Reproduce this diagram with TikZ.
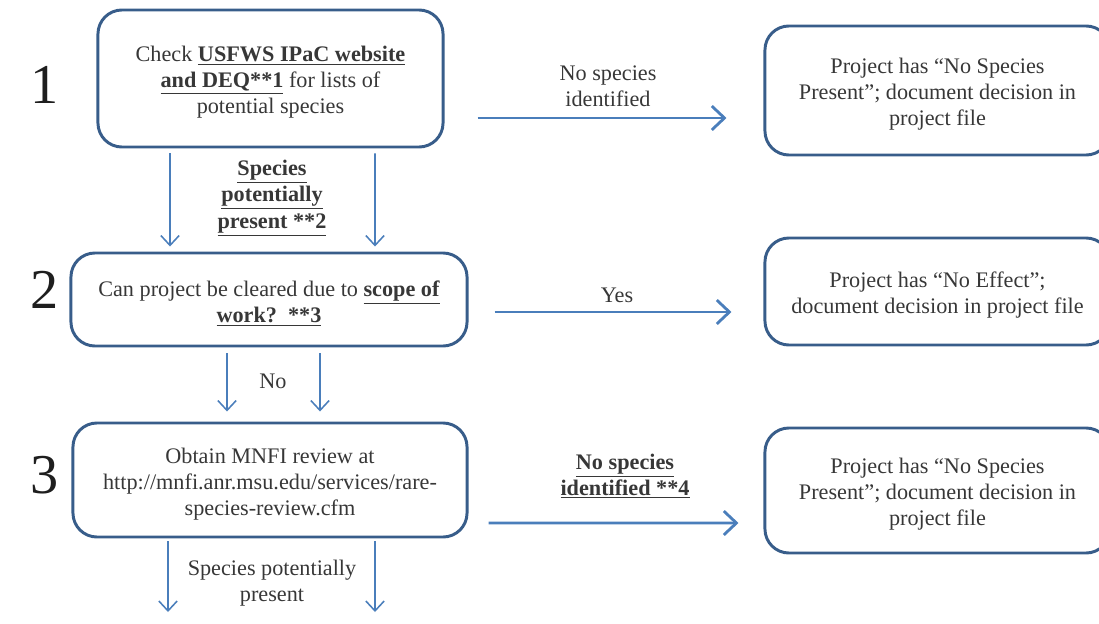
\documentclass[tikz,border=0pt]{standalone}
\usepackage{fontspec}
\setmainfont{Liberation Serif}
\usetikzlibrary{arrows.meta, calc}
\definecolor{boxline}{RGB}{56, 93, 138}
\definecolor{flowblue}{RGB}{74, 126, 187}
\definecolor{inkgray}{RGB}{55, 55, 55}
\definecolor{stepink}{RGB}{30, 30, 30}
\newcommand{\boxstrut}{\rule{0pt}{16.5pt}}

\begin{document}
\begin{tikzpicture}[x=0.025cm, y=-0.025cm,
  stepbox/.style={draw=boxline, line width=2.1pt, rounded corners=0.6cm, align=center, text=inkgray, inner sep=0pt, font=\fontsize{15.8}{18.6}\selectfont},
  flowlabel/.style={align=center, text=inkgray, inner sep=0pt, font=\fontsize{15.8}{18.6}\selectfont},
  stepnum/.style={text=stepink, inner sep=0pt, font=\fontsize{40}{40}\selectfont},
  hflow/.style={draw=flowblue, line width=2pt, -{Straight Barb[length=9pt, width=17pt, line width=2pt]}},
  vflow/.style={draw=flowblue, line width=1.1pt, -{Straight Barb[length=7pt, width=13pt, line width=1.1pt]}}]
  \useasboundingbox (0,0) rectangle (1099,624);
  \clip (0,0) rectangle (1099,624);
  % Step numbers
  \node[stepnum] (n1) at (45,85) {1};
  \node[stepnum] (n2) at (45,290) {2};
  \node[stepnum] (n3) at (45,475) {3};
  % Main column
  \node[stepbox, minimum width=8.625cm, minimum height=3.425cm] (b1) at (270.5,78.5)
    {\boxstrut Check \underline{\textbf{USFWS IPaC website}}\\ \underline{\textbf{and DEQ**1}} for lists of\\ potential species};
  \node[stepbox, minimum width=9.9cm, minimum height=2.325cm] (b2) at (269,299.5)
    {\boxstrut Can project be cleared due to \underline{\textbf{scope of}}\\ \underline{\textbf{work?~~**3}}};
  \node[stepbox, minimum width=9.85cm, minimum height=2.85cm] (b3) at (270,480)
    {\boxstrut Obtain MNFI review at\\ http://mnfi.anr.msu.edu/services/rare-\\ species-review.cfm};
  % Outcomes
  \node[stepbox, minimum width=8.625cm, minimum height=3.225cm] (r1) at (937.5,90.5)
    {\boxstrut Project has “No Species\\ Present”; document decision in\\ project file};
  \node[stepbox, minimum width=8.625cm, minimum height=2.675cm] (r2) at (937.5,291.5)
    {\boxstrut Project has “No Effect”;\\ document decision in project file};
  \node[stepbox, minimum width=8.625cm, minimum height=3.125cm] (r3) at (937.5,490.5)
    {\boxstrut Project has “No Species\\ Present”; document decision in\\ project file};
  % Arrow labels
  \node[flowlabel] (l1) at (608,86) {No species\\ identified};
  \node[flowlabel] (l2) at (617,295) {Yes};
  \node[flowlabel] (l3) at (625,476) {\underline{\textbf{No species}}\\ \underline{\textbf{identified **4}}};
  \node[flowlabel] (v1) at (272,198) {\underline{\textbf{Species}}\\ \underline{\textbf{potentially}}\\ \underline{\textbf{present **2}}};
  \node[flowlabel] (v2) at (273,381) {No};
  \node[flowlabel] (v3) at (272,583) {Species potentially\\ present};
  % Horizontal flows
  \draw[hflow] ($(b1.east)+(33,39.5)$) -- ($(r1.west)+(-37,27.5)$);
  \draw[hflow] ($(b2.east)+(26,12.5)$) -- ($(r2.west)+(-32,20.5)$);
  \draw[hflow] ($(b3.east)+(20,43)$) -- ($(r3.west)+(-25,32.5)$);
  % Vertical flows
  \draw[vflow] ($(b1.south)+(-100.5,5)$) -- ($(b2.north)+(-99,-5)$);
  \draw[vflow] ($(b1.south)+(104.5,5)$) -- ($(b2.north)+(106,-5)$);
  \draw[vflow] ($(b2.south)+(-42,6)$) -- ($(b3.north)+(-43,-10)$);
  \draw[vflow] ($(b2.south)+(51,6)$) -- ($(b3.north)+(50,-10)$);
  \coordinate (nextL) at (168,612);
  \coordinate (nextR) at (375,612);
  \draw[vflow] ($(b3.south)+(-102,3)$) -- (nextL);
  \draw[vflow] ($(b3.south)+(105,3)$) -- (nextR);
\end{tikzpicture}
\end{document}
